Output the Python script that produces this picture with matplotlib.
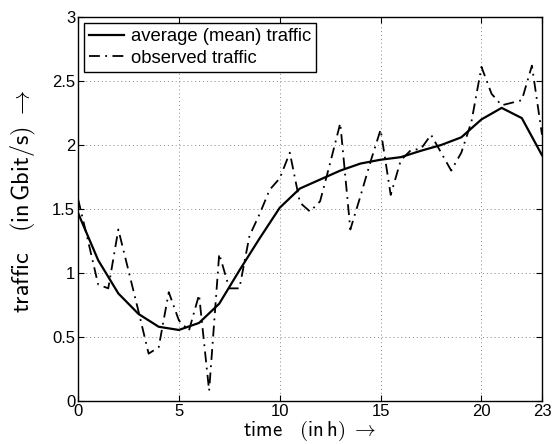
import numpy as np
import matplotlib
matplotlib.use("Agg")
import matplotlib.pyplot as plt

plt.rcParams['font.family'] = ['Liberation Sans', 'DejaVu Sans']
plt.rcParams['mathtext.fontset'] = 'cm'

# hourly mean traffic (Gbit/s)
mean_hours = list(range(24))
mean_traffic = [1.47, 1.10, 0.84, 0.68, 0.58, 0.555, 0.61, 0.76, 1.02, 1.27,
                1.51, 1.66, 1.73, 1.80, 1.855, 1.885, 1.905, 1.955, 2.00, 2.06,
                2.20, 2.29, 2.21, 1.92]

# observed traffic, half-hour samples
obs_hours = [h / 2 for h in range(47)]
obs_traffic = [1.58, 1.25, 0.91, 0.88, 1.34, 1.02, 0.70, 0.37, 0.42, 0.85,
               0.63, 0.55, 0.83, 0.08, 1.15, 0.88, 0.88, 1.29, 1.46, 1.65,
               1.74, 1.94, 1.55, 1.48, 1.56, 1.86, 2.17, 1.34, 1.60, 1.87,
               2.12, 1.61, 1.88, 1.96, 1.97, 2.08, 1.94, 1.80, 1.94, 2.18,
               2.61, 2.40, 2.31, 2.33, 2.35, 2.62, 2.08]

xticks = [0, 5, 10, 15, 20, 23]
yticks = [0, 0.5, 1, 1.5, 2, 2.5, 3]

fig = plt.figure(figsize=(5.55, 4.44), dpi=100)
ax = fig.add_axes([78 / 555, 43 / 444, 464 / 555, 384 / 444])

ax.plot(mean_hours, mean_traffic, color='black', lw=1.6,
        label='average (mean) traffic')
ax.plot(obs_hours, obs_traffic, color='black', lw=1.3,
        dashes=(6, 3, 1, 3), label='observed traffic')

ax.set_xlim(0, 23)
ax.set_ylim(0, 3)
ax.set_xticks(xticks)
ax.set_xticklabels([str(t) for t in xticks])
ax.set_yticks(yticks)
ax.set_yticklabels(['0', '0.5', '1', '1.5', '2', '2.5', '3'])
ax.tick_params(direction='in', length=4, width=0.8, top=True, right=True,
               labelsize=12, pad=2)
ax.grid(True, linestyle=(0, (1, 3)), color='#888888', linewidth=0.7)
for s in ax.spines.values():
    s.set_linewidth(1.0)

ax.set_xlabel(r'$\mathsf{time}\quad\mathsf{(in\,h)}\ \rightarrow$',
              fontsize=15, va='center')
ax.xaxis.set_label_coords(0.5, -0.077)
ax.set_ylabel(r'$\mathsf{traffic}\quad\mathsf{(in\,Gbit/s)}\ \rightarrow$',
              fontsize=17.5)
ax.yaxis.set_label_coords(-0.086, 0.52)

leg = ax.legend(loc='upper left', fontsize=13.3, fancybox=False, framealpha=1,
                edgecolor='black', borderaxespad=0.3, handlelength=1.9,
                handletextpad=0.35, borderpad=0.3, labelspacing=0.25)
leg.get_frame().set_linewidth(1.0)

fig.savefig('out.png', dpi=100)
